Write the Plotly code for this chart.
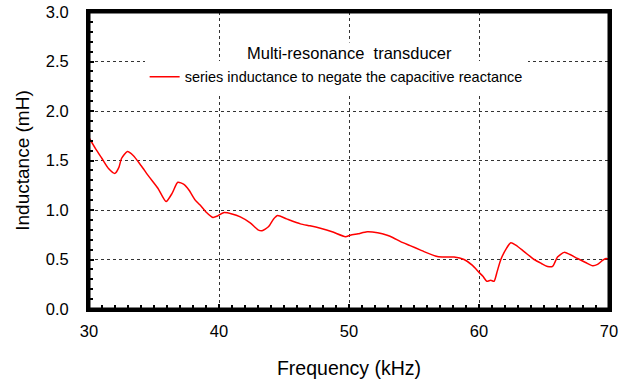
import plotly.graph_objects as go

freq_khz = [30.0, 30.5, 31.0, 31.5, 32.0, 32.3, 32.5, 32.95, 33.4, 34.0, 34.6, 35.3, 35.93, 36.4, 36.83,
            37.3, 37.7, 38.17, 38.55, 39.0, 39.53, 39.9, 40.35, 41.0, 41.64, 42.4, 43.0, 43.31, 43.8,
            44.2, 44.51, 45.2, 46.26, 47.0, 47.8, 48.7, 49.73, 50.1, 50.7, 51.4, 52.2, 52.94, 53.4,
            53.97, 54.7, 55.51, 55.77, 56.8, 57.4, 58.08, 58.85, 59.5, 60.0, 60.3, 60.6, 60.9, 61.16,
            61.4, 61.68, 62.1, 62.45, 62.83, 63.47, 64.24, 64.8, 65.27, 65.66, 66.04, 66.55, 67.0,
            67.58, 68.2, 68.74, 69.12, 69.5, 69.77, 70.0]
inductance_mh = [1.73, 1.62, 1.52, 1.42, 1.37, 1.43, 1.52, 1.59, 1.55, 1.45, 1.34, 1.22, 1.085, 1.17, 1.28,
                 1.26, 1.20, 1.10, 1.05, 0.98, 0.925, 0.94, 0.973, 0.96, 0.93, 0.87, 0.80, 0.79, 0.83,
                 0.91, 0.945, 0.91, 0.86, 0.84, 0.815, 0.78, 0.73, 0.745, 0.76, 0.78, 0.77, 0.745, 0.72,
                 0.68, 0.64, 0.595, 0.58, 0.53, 0.525, 0.525, 0.50, 0.44, 0.37, 0.33, 0.28, 0.29, 0.28,
                 0.38, 0.50, 0.61, 0.67, 0.645, 0.58, 0.50, 0.46, 0.43, 0.43, 0.525, 0.572, 0.55,
                 0.51, 0.47, 0.437, 0.45, 0.49, 0.51, 0.505]

series_name = "series inductance to negate the capacitive reactance"
chart_title = "Multi-resonance  transducer"

fig = go.Figure()
fig.add_trace(go.Scatter(x=freq_khz, y=inductance_mh, mode="lines", name=series_name,
                         line=dict(color="#ff0000", width=1.5, shape="spline", smoothing=0.6)))

font_family = "Liberation Sans, Arial, sans-serif"
fig.update_layout(
    width=625, height=382,
    margin=dict(l=89, r=16, t=12, b=73),
    paper_bgcolor="white", plot_bgcolor="white",
    font=dict(family=font_family, color="black"),
    showlegend=True,
    legend=dict(x=0.107, y=0.836, xanchor="left", yanchor="top", bgcolor="white",
                font=dict(size=14.5, family=font_family), itemwidth=30,
                tracegroupgap=0),
    annotations=[dict(text=chart_title, x=0.5, y=0.862, xref="paper", yref="paper",
                      xanchor="center", yanchor="middle", showarrow=False,
                      font=dict(size=16.5, family=font_family), bgcolor="white")],
    shapes=[dict(type="rect", xref="paper", yref="paper", x0=0, x1=1, y0=0, y1=1,
                 line=dict(color="black", width=3), layer="above")],
)
fig.update_xaxes(range=[30, 70], dtick=10, tick0=30, showline=True, linecolor="black", linewidth=3,
                 mirror=True, ticks="inside", ticklen=5, tickwidth=1.5, tickcolor="black",
                 minor=dict(ticks="inside", dtick=1, ticklen=4, tickwidth=1.5, tickcolor="black"),
                 showgrid=True, gridcolor="#333333", griddash="dot", gridwidth=1,
                 tickfont=dict(size=16.5), ticklabelstandoff=5, automargin=False,
                 title=dict(text="Frequency (kHz)", font=dict(size=19.5), standoff=23),
                 zeroline=False)
fig.update_yaxes(range=[0, 3.0], dtick=0.5, tick0=0, tickformat=".1f", showline=True, linecolor="black",
                 linewidth=3, mirror=True, ticks="inside", ticklen=5, tickwidth=1.5, tickcolor="black",
                 minor=dict(ticks="inside", dtick=0.1, ticklen=4, tickwidth=1.5, tickcolor="black"),
                 showgrid=True, gridcolor="#333333", griddash="dot", gridwidth=1,
                 tickfont=dict(size=16.5), ticklabelstandoff=14, automargin=False,
                 title=dict(text="Inductance (mH)", font=dict(size=19), standoff=12),
                 zeroline=False)

fig.write_html("out.html")
